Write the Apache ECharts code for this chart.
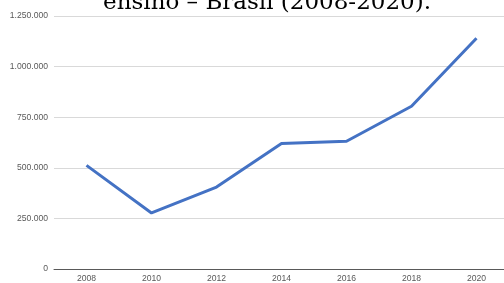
<!DOCTYPE html>
<html>
<head>
<meta charset="utf-8">
<script src="https://cdn.jsdelivr.net/npm/echarts@6/dist/echarts.min.js"></script>
<style>
  html, body { margin: 0; padding: 0; background: #fff; overflow: hidden; }
  #chart { width: 509px; height: 283px; }
</style>
</head>
<body>
<div id="chart"></div>
<script>
const anos = ['2008', '2010', '2012', '2014', '2016', '2018', '2020']
const matriculas = [512000, 277000, 405000, 620000, 631000, 804000, 1140000]
const titulo = 'ensino – Brasil (2008-2020).'

function fmt(v) {
  return String(v).replace(/\B(?=(\d{3})+(?!\d))/g, '.')
}

const chart = echarts.init(document.getElementById('chart'))
chart.setOption({
  animation: false,
  title: {
    text: titulo,
    left: 262,
    textAlign: 'center',
    top: -13,
    textStyle: {
      fontFamily: 'DejaVu Serif',
      fontWeight: 'normal',
      fontSize: 23,
      color: '#000'
    }
  },
  grid: {
    left: 54,
    right: 0,
    top: 16,
    bottom: 13
  },
  xAxis: {
    type: 'category',
    data: anos,
    axisTick: { show: false },
    axisLine: { lineStyle: { color: '#595959', width: 1 } },
    axisLabel: {
      color: '#595959',
      fontSize: 8.6,
      fontFamily: 'Liberation Sans',
      margin: 5
    }
  },
  yAxis: {
    type: 'value',
    min: 0,
    max: 1250000,
    interval: 250000,
    axisLine: { show: false },
    axisTick: { show: false },
    splitLine: { lineStyle: { color: '#d9d9d9', width: 1 } },
    axisLabel: {
      color: '#595959',
      fontSize: 8.6,
      fontFamily: 'Liberation Sans',
      margin: 6,
      formatter: fmt
    }
  },
  series: [{
    type: 'line',
    data: matriculas,
    symbol: 'none',
    lineStyle: { color: '#4472c4', width: 3 }
  }]
})
</script>
</body>
</html>
